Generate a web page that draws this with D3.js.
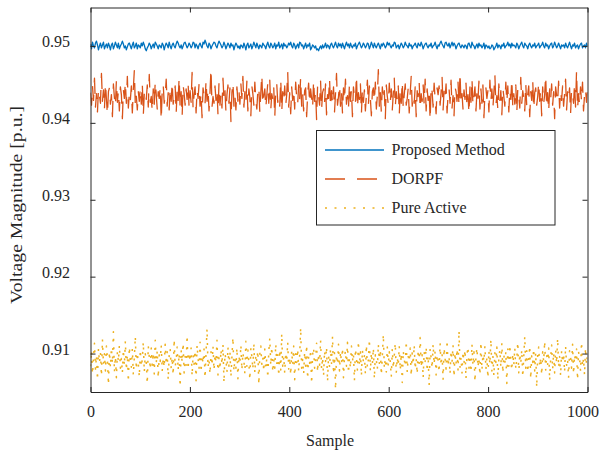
<!DOCTYPE html>
<html>
<head>
<meta charset="utf-8">
<script src="https://cdn.jsdelivr.net/npm/d3@7"></script>
<style>
  html, body { margin: 0; padding: 0; background: #fff; }
  svg { display: block; }
  text { font-family: "Liberation Serif", "Times New Roman", serif; fill: #262626; }
</style>
</head>
<body>
<svg id="chart" width="599" height="451"></svg>
<script>
// ---- data (stored as integer offsets in units of 1.25e-4 p.u. from each series' base level) ----
const seriesNames = ["Proposed Method", "DORPF", "Pure Active"];
const seriesColors = ["#0072BD", "#D95319", "#EDB120"];
const xTicks = [0, 200, 400, 600, 800, 1000];
const yTicks = [0.91, 0.92, 0.93, 0.94, 0.95];
const xDomain = [0, 1000];
const yDomain = [0.905, 0.955];
const unit = 1.25e-4;

const proposedBase = 0.9500;
const proposedDev = [
2,-3,4,0,-2,3,5,1,-4,0,3,-2,1,4,-3,0,2,-2,3,0,-4,1,3,-3,0,
4,1,-2,3,-3,0,2,5,2,-2,0,-4,-1,2,3,0,-3,1,4,-2,0,3,-3,1,0,
-2,3,0,4,1,-3,-5,-2,0,3,1,-3,0,2,-2,4,2,0,-3,1,0,-2,3,1,-4,
0,3,1,-2,4,0,-3,1,3,0,-2,2,5,3,0,-2,1,-3,0,3,4,1,-2,0,3,
1,-2,0,4,3,-2,2,0,-3,1,3,0,-2,4,2,6,3,0,-2,3,1,-3,0,2,4,
3,0,-2,2,5,3,1,-2,0,4,1,-3,0,3,1,-2,3,0,1,-4,0,3,1,-2,0,
-3,1,0,-2,3,0,-4,1,3,-2,0,2,-3,0,4,1,-2,3,0,-3,1,0,-2,3,1,
0,-3,1,4,0,-2,3,1,-2,0,3,-3,1,0,4,-2,0,2,-3,3,0,1,-2,0,3,
1,4,0,-2,3,1,-3,0,2,-2,4,3,0,1,-3,0,3,-2,1,0,3,-4,-2,1,0,
-2,0,-4,-3,-5,-2,0,-3,1,-2,0,3,-2,1,0,-3,1,3,0,-2,1,4,0,-2,3,
0,2,-2,3,0,-3,1,4,0,2,-2,3,0,-2,1,0,3,-3,0,2,4,1,-2,0,3,
1,-2,0,3,2,-3,0,4,1,-2,3,0,-2,1,3,0,-3,2,0,3,1,-2,0,4,1,
3,0,-2,1,0,4,3,-2,0,1,-3,0,3,1,-2,0,4,1,0,-2,3,0,1,-3,0,
1,3,0,-2,3,1,0,4,1,-3,0,2,3,0,-2,1,0,3,-2,0,1,4,0,-3,1,
0,3,5,2,0,-2,3,4,1,0,3,-2,1,4,0,3,1,-3,0,2,3,0,-2,1,0,
-2,1,0,-3,2,3,0,-2,4,1,0,-3,0,2,-2,3,0,1,-2,0,3,-3,1,0,-2,
0,-3,-2,1,0,-4,-2,0,3,-2,1,0,-3,1,0,3,-2,0,1,4,0,2,-2,3,0,
1,0,-2,3,1,-3,0,2,4,0,-2,3,1,0,-3,1,3,0,-2,1,0,3,-2,0,1,
3,-2,0,1,4,0,-2,3,0,1,-3,0,2,3,-2,0,4,1,-2,0,3,0,-3,1,0,
1,-2,3,0,-2,1,4,0,-3,1,0,3,-2,0,1,-3,0,2,3,-2,0,1,-2,3,0
];

const dorpfBase = 0.9433;
const dorpfDev = [
5,-8,12,-3,20,-10,4,-15,9,2,-6,25,-4,8,-12,15,-2,-18,6,10,-7,3,-20,14,0,
-9,18,-5,7,-14,11,3,-22,8,-1,16,-6,22,-11,5,-3,12,-16,9,28,-8,2,-13,6,-4,
10,-7,15,-19,4,8,-2,13,-10,24,-5,1,-15,9,-8,17,3,-12,6,-1,11,-24,7,14,-6,
2,19,-9,5,-13,10,-4,16,-7,0,12,-17,8,-3,21,-10,6,-20,13,4,-8,9,-2,15,-11,
7,-5,26,-12,3,11,-16,8,-1,14,-9,5,-21,10,2,-7,18,-4,9,-14,6,30,-10,1,-6,
12,-3,8,-18,15,-8,4,-11,20,-2,7,-15,3,13,-6,10,-25,5,16,-9,2,-13,11,-4,8,
-7,14,-1,22,-10,6,-5,17,-14,9,0,-19,12,4,-8,16,-3,-12,7,11,-16,5,24,-7,3,
9,-11,2,15,-6,18,-13,4,-2,10,-21,8,14,-5,1,-9,19,-15,6,-4,12,-8,3,27,-10,
5,-17,11,-3,8,-12,16,0,-7,13,-2,21,-9,4,-14,7,10,-20,3,15,-6,9,-1,-11,18,
-4,6,-23,12,2,-8,17,-13,5,9,-5,14,-18,3,-1,20,-10,7,-6,11,-15,4,25,-8,1,
13,-9,6,-16,10,-3,19,-7,2,-12,15,-4,8,-20,11,0,-6,23,-11,5,-2,14,-17,9,-5,
8,-14,3,18,-8,12,-1,-19,6,10,-4,16,-12,2,29,-9,5,-15,11,-3,7,-22,13,1,-7,
15,-5,9,-13,4,20,-10,6,-2,12,-18,8,-6,17,-11,3,14,-8,-1,10,-16,5,22,-9,2,
-6,11,-20,7,1,16,-12,4,-4,13,-7,19,-14,9,-3,8,-24,12,6,-10,15,-2,-17,10,3,
12,-8,5,21,-13,7,-1,14,-16,3,9,-6,18,-11,2,-19,11,6,-4,16,-9,26,-7,4,-12,
8,-2,15,-10,3,-17,12,-5,20,-8,1,11,-14,6,-3,17,-12,9,-6,13,-21,4,10,-1,7,
-15,18,-4,9,-11,5,24,-8,2,-13,14,-3,7,-18,10,1,-9,16,-5,12,-15,8,-2,19,-10,
4,-7,13,-16,9,2,-11,21,-6,7,-1,-14,15,-9,3,12,-20,6,-3,18,-12,5,10,-8,1,
16,-4,8,-19,11,-6,3,23,-10,5,-15,9,-2,14,-8,6,-22,11,2,-5,17,-11,7,-3,12,
-9,4,19,-13,6,-1,10,-17,8,3,-6,15,-10,28,-12,4,-7,11,-4,16,-14,2,9,-5,6
];

const pureBase = 0.9091;
const pureDev = [
-6,10,-14,3,18,-9,5,-20,12,-2,8,-16,22,-4,7,-11,15,1,-25,9,-7,13,-3,30,-12,
4,-18,9,-1,16,-8,2,-13,11,-5,20,-10,6,-22,14,0,-7,12,-15,3,25,-9,8,-3,-17,
11,-6,1,19,-12,7,-2,-24,15,4,-9,13,-5,8,-14,21,-3,10,-18,6,-1,16,-11,2,-7,
17,-4,9,-20,5,12,-8,3,-15,22,-6,0,14,-10,7,-27,11,-2,18,-13,4,-5,26,-9,8,
-1,13,-16,6,-4,10,-21,16,2,-8,19,-12,5,-3,12,-18,8,33,-7,1,-14,9,-5,15,-10,
6,-2,21,-15,3,-9,11,-4,17,-23,7,1,-12,14,-6,9,-17,4,24,-11,2,-8,13,-19,5,
-3,16,-10,8,0,-14,20,-6,11,-2,-20,13,4,-9,18,-13,6,-1,10,-25,7,15,-4,3,-11,
12,-7,2,-18,9,23,-5,14,-12,1,-8,17,-3,6,-16,11,-10,28,-6,4,-13,8,-1,19,-9,
3,-15,10,-4,15,-20,7,-2,12,-11,5,34,-8,1,-14,9,-6,16,-19,4,-3,11,-24,6,13,
-8,2,18,-12,7,-5,21,-9,3,-16,10,-1,14,-22,5,-7,12,-3,25,-14,8,-30,6,-4,17,
-11,9,-3,13,-18,4,10,-6,19,-13,2,-8,15,-1,7,-21,12,3,-10,20,-5,9,-16,11,-2,
5,-14,16,-7,1,22,-11,8,-4,13,-19,6,0,-9,17,-3,11,-15,4,27,-8,2,-12,14,-6,
9,-2,-17,12,-8,5,18,-13,3,-5,15,-10,7,-23,10,1,-6,20,-12,4,-1,13,-16,8,-4,
16,-9,2,-14,11,-3,24,-7,6,-18,9,-1,14,-11,5,-26,12,3,-8,17,-4,10,-15,6,0,
-12,18,-5,7,-20,13,2,-9,21,-6,4,-14,10,-2,16,-17,8,-4,12,-10,31,-7,3,-13,9,
-3,11,-19,6,14,-8,1,-12,17,-5,9,-22,4,13,-7,2,-15,19,-10,6,-1,15,-9,3,-18,
10,-4,22,-11,5,-16,8,-2,14,-20,3,11,-7,18,-13,6,-3,9,-24,12,-6,16,-1,-10,7,
-5,13,-9,2,19,-14,7,-3,11,-17,4,25,-8,10,-12,1,15,-19,5,-2,12,-11,8,-28,6,
14,-6,3,-15,9,-1,20,-10,6,-4,13,-21,2,16,-9,8,-13,11,-3,23,-7,4,-16,10,-2,
7,-12,15,-5,1,-18,10,4,-8,17,-14,6,-1,12,-20,9,3,-11,19,-6,2,-15,13,-4,8
];

// ---- layout ----
const W = 599, H = 451;
const plot = { left: 90.5, right: 587.5, top: 7.5, bottom: 392 };
const svg = d3.select("#chart");
const axisColor = "#262626";
const fontSize = 16;

const x = d3.scaleLinear().domain(xDomain).range([plot.left, plot.right]);
const y = d3.scaleLinear().domain(yDomain).range([plot.bottom, plot.top]);

svg.append("rect").attr("width", W).attr("height", H).attr("fill", "#fff");

svg.append("defs").append("clipPath").attr("id", "clip")
  .append("rect")
  .attr("x", plot.left).attr("y", plot.top)
  .attr("width", plot.right - plot.left).attr("height", plot.bottom - plot.top);

function toPoints(base, dev) {
  const n = dev.length;
  const step = (xDomain[1] - xDomain[0]) / (n - 1);
  return dev.map((d, i) => ({ s: xDomain[0] + i * step, v: base + d * unit }));
}

const series = [
  { name: seriesNames[0], color: seriesColors[0], pts: toPoints(proposedBase, proposedDev), dash: null, w: 1.3 },
  { name: seriesNames[1], color: seriesColors[1], pts: toPoints(dorpfBase, dorpfDev), dash: "20,12", w: 1.3 },
  { name: seriesNames[2], color: seriesColors[2], pts: toPoints(pureBase, pureDev), dash: "2,6.5", w: 1.5 }
];

const line = d3.line().x(d => x(d.s)).y(d => y(d.v));

const lines = svg.append("g").attr("clip-path", "url(#clip)");
series.slice().reverse().forEach(s => {
  lines.append("path")
    .datum(s.pts)
    .attr("d", line)
    .attr("fill", "none")
    .attr("stroke", s.color)
    .attr("stroke-width", s.w)
    .attr("stroke-dasharray", s.dash)
    .attr("stroke-linejoin", "round");
});

// axes (MATLAB-like: ticks inside, box on)
const tickLen = 5;
const bottomAxis = d3.axisBottom(x).tickValues(xTicks).tickSizeInner(-tickLen).tickSizeOuter(0).tickPadding(0).tickFormat(d3.format("d"));
const topAxis = d3.axisTop(x).tickValues(xTicks).tickSizeInner(-tickLen).tickSizeOuter(0).tickFormat("");
const leftAxis = d3.axisLeft(y).tickValues(yTicks).tickSizeInner(-tickLen).tickSizeOuter(0).tickFormat(d3.format(".2f"));
const rightAxis = d3.axisRight(y).tickValues(yTicks).tickSizeInner(-tickLen).tickSizeOuter(0).tickFormat("");

function styleAxis(g) {
  g.selectAll("path.domain").attr("stroke", axisColor).attr("stroke-width", 1);
  g.selectAll(".tick line").attr("stroke", axisColor).attr("stroke-width", 1);
  g.selectAll(".tick text")
    .attr("fill", axisColor)
    .style("font-family", '"Liberation Serif", "Times New Roman", serif')
    .style("font-size", fontSize + "px");
}

const gb = svg.append("g").attr("transform", `translate(0,${plot.bottom})`).call(bottomAxis).call(styleAxis);
gb.selectAll(".tick text").attr("y", 24.5).attr("dy", null)
  .attr("dx", d => d === xDomain[1] ? -5 : 0);
svg.append("g").attr("transform", `translate(0,${plot.top})`).call(topAxis).call(styleAxis);
const gl = svg.append("g").attr("transform", `translate(${plot.left},0)`).call(leftAxis).call(styleAxis);
gl.selectAll(".tick text").attr("x", -20.5).attr("dy", "0.05em");
svg.append("g").attr("transform", `translate(${plot.right},0)`).call(rightAxis).call(styleAxis);

// axis labels
svg.append("text")
  .attr("x", 330).attr("y", 446)
  .attr("text-anchor", "middle")
  .style("font-size", fontSize + "px")
  .text("Sample");

svg.append("text")
  .attr("transform", "translate(21.5,205) rotate(-90)")
  .attr("text-anchor", "middle")
  .attr("textLength", 198)
  .attr("lengthAdjust", "spacingAndGlyphs")
  .style("font-size", fontSize + "px")
  .text("Voltage Magnitude [p.u.]");

// legend
const lg = svg.append("g");
lg.append("rect")
  .attr("x", 316.5).attr("y", 130.5).attr("width", 238.5).attr("height", 94.5)
  .attr("fill", "#fff").attr("stroke", axisColor).attr("stroke-width", 1);
const legendY = [150, 179, 208];
series.forEach((s, i) => {
  lg.append("line")
    .attr("x1", 325).attr("x2", 384)
    .attr("y1", legendY[i]).attr("y2", legendY[i])
    .attr("stroke", s.color).attr("stroke-width", s.w)
    .attr("stroke-dasharray", i === 2 ? "2,7.5" : s.dash);
  lg.append("text")
    .attr("x", 391.5).attr("y", legendY[i] + 5)
    .style("font-size", fontSize + "px")
    .text(s.name);
});
</script>
</body>
</html>
